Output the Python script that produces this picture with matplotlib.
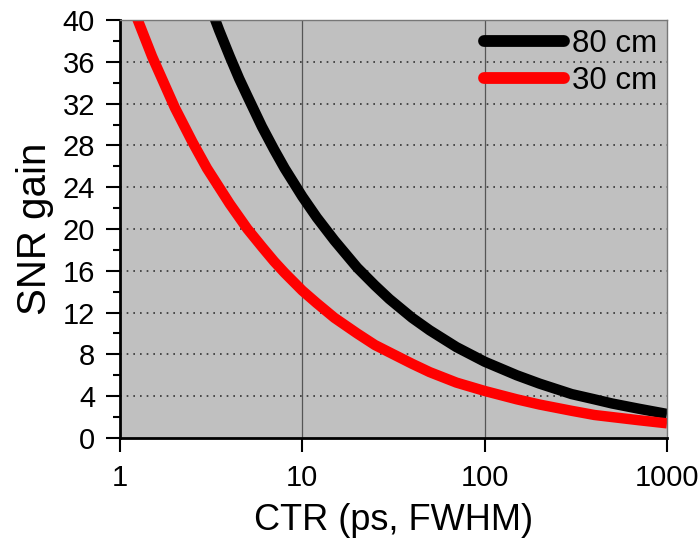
import numpy as np
import matplotlib.pyplot as plt
from matplotlib.ticker import MultipleLocator, FixedLocator, NullLocator

plt.rcParams['font.family'] = ['Liberation Sans', 'DejaVu Sans']

# values
ctr_80 = [3.2, 3.5, 4, 4.5, 5, 6, 7, 8, 10, 12, 15, 20, 25, 30, 40, 50, 70,
          100, 150, 200, 300, 400, 500, 700, 1000]
snr_80 = [40.8, 39.0, 36.5, 34.4, 32.7, 29.8, 27.6, 25.8, 23.1, 21.1, 18.9,
          16.3, 14.6, 13.3, 11.5, 10.3, 8.7, 7.3, 6.0, 5.2, 4.2, 3.7, 3.3,
          2.8, 2.3]
ctr_30 = [1.2, 1.5, 2, 2.5, 3, 4, 5, 6, 7, 8, 10, 12, 15, 20, 25, 30, 40, 50,
          70, 100, 150, 200, 300, 400, 500, 700, 1000]
snr_30 = [40.8, 36.5, 31.6, 28.3, 25.8, 22.4, 20.0, 18.3, 16.9, 15.8, 14.1,
          12.9, 11.5, 10.0, 8.9, 8.2, 7.1, 6.3, 5.3, 4.5, 3.7, 3.2, 2.6, 2.2,
          2.0, 1.7, 1.4]
labels = ['80 cm', '30 cm']

fig = plt.figure(figsize=(6.99, 5.44), dpi=100)
ax = fig.add_axes([0.1717, 0.1949, 0.9542 - 0.1717, 0.9632 - 0.1949])
ax.set_facecolor('#c0c0c0')

ax.plot(ctr_80, snr_80, color='black', lw=7.5, label=labels[0], solid_capstyle='butt')
ax.plot(ctr_30, snr_30, color='#ff0000', lw=7.5, label=labels[1], solid_capstyle='butt')

ax.set_xscale('log')
ax.set_xlim(1, 1000)
ax.set_ylim(0, 40)
ax.xaxis.set_major_locator(FixedLocator([1, 10, 100, 1000]))
ax.xaxis.set_minor_locator(NullLocator())
ax.set_xticklabels(['1', '10', '100', '1000'])
ax.yaxis.set_major_locator(MultipleLocator(4))
ax.yaxis.set_minor_locator(MultipleLocator(2))

for v in [10, 100]:
    ax.axvline(v, color='#555555', lw=0.9, zorder=0.5)
for v in range(4, 40, 4):
    ax.axhline(v, color='#333333', lw=1.2, ls=(0, (1, 3)), zorder=0.5)

ax.tick_params(axis='both', which='major', direction='out', length=10, width=1.5,
               labelsize=21)
ax.tick_params(axis='x', which='major', pad=9)
ax.tick_params(axis='y', which='major', pad=8)
ax.tick_params(axis='y', which='minor', direction='out', length=5, width=1.5)
for s in ['left', 'bottom']:
    ax.spines[s].set_linewidth(2)
for s in ['top', 'right']:
    ax.spines[s].set_color('#777777')
    ax.spines[s].set_linewidth(1)

ax.set_xlabel('CTR (ps, FWHM)', fontsize=26, labelpad=8)
ax.set_ylabel('SNR gain', fontsize=29, labelpad=6)

leg = ax.legend(loc='upper right', frameon=False, fontsize=22.5, handlelength=2.56,
                handletextpad=0.26, borderaxespad=0.3, borderpad=0, labelspacing=0.2)
for h in leg.get_lines():
    h.set_solid_capstyle('round')
    h.set_linewidth(8.5)

fig.savefig('out.png', dpi=100)
